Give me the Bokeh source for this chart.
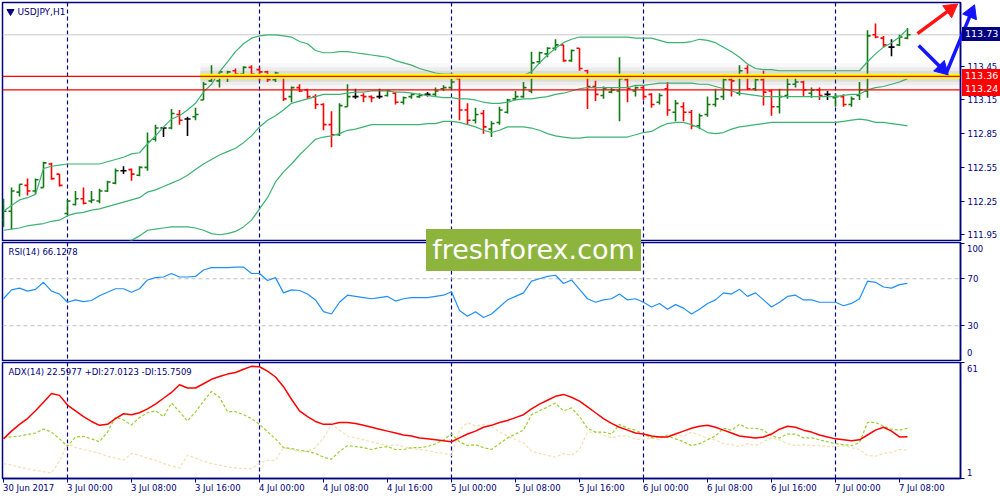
import numpy as np
from bokeh.plotting import figure
from bokeh.layouts import column
from bokeh.models import Range1d, FixedTicker, Span, Div
from bokeh.core.properties import value
from bokeh.embed import file_html
from bokeh.resources import INLINE

# ---------------- data ----------------
opens = [112.08,112.16,112.33,112.39,112.34,112.37,112.58,112.49,112.14,112.22,
         112.27,112.25,112.25,112.34,112.41,112.52,112.53,112.48,112.55,112.80,
         112.90,112.90,113.02,112.98,113.00,113.15,113.32,113.32,113.36,113.41,
         113.38,113.44,113.42,113.40,113.33,113.37,113.18,113.26,113.24,113.18,
         113.11,112.93,112.84,113.09,113.18,113.19,113.18,113.18,113.19,113.21,
         113.13,113.18,113.18,113.20,113.20,113.25,113.26,113.34,113.06,112.97,
         113.03,112.89,112.95,113.04,113.16,113.18,113.23,113.49,113.56,113.61,
         113.64,113.50,113.61,113.41,113.27,113.19,113.22,113.23,113.33,113.23,
         113.26,113.20,113.13,113.25,113.04,113.09,113.04,112.92,113.02,113.11,
         113.18,113.33,113.21,113.43,113.25,113.33,113.23,113.09,113.19,113.29,
         113.31,113.21,113.24,113.20,113.17,113.18,113.11,113.19,113.23,113.73,
         113.70,113.62,113.64,113.70]
highs = [112.27,112.37,112.40,112.45,112.45,112.60,112.59,112.49,112.26,112.34,
         112.37,112.34,112.36,112.43,112.54,112.56,112.54,112.56,112.86,112.93,
         112.90,113.07,113.06,113.00,113.08,113.31,113.46,113.40,113.41,113.43,
         113.45,113.46,113.44,113.41,113.40,113.38,113.27,113.29,113.25,113.20,
         113.12,113.05,113.12,113.29,113.25,113.21,113.19,113.25,113.24,113.22,
         113.18,113.21,113.21,113.22,113.26,113.28,113.34,113.35,113.12,113.08,
         113.06,112.96,113.09,113.16,113.23,113.31,113.58,113.58,113.62,113.69,
         113.64,113.60,113.61,113.42,113.32,113.27,113.26,113.53,113.38,113.27,
         113.28,113.21,113.21,113.31,113.15,113.13,113.06,113.03,113.18,113.25,
         113.38,113.38,113.46,113.46,113.38,113.41,113.24,113.25,113.38,113.35,
         113.32,113.26,113.26,113.23,113.21,113.20,113.18,113.31,113.77,113.83,
         113.72,113.69,113.73,113.79]
lows = [112.02,112.00,112.29,112.30,112.31,112.37,112.44,112.38,112.13,112.21,
        112.22,112.23,112.23,112.33,112.40,112.49,112.43,112.47,112.52,112.78,
        112.82,112.89,112.93,112.83,112.97,113.15,113.31,113.26,113.31,113.37,
        113.37,113.36,113.32,113.31,113.31,113.14,113.13,113.22,113.16,113.07,
        112.88,112.73,112.83,113.09,113.16,113.13,113.13,113.16,113.18,113.11,
        113.11,113.16,113.17,113.18,113.18,113.23,113.25,112.97,112.93,112.94,
        112.85,112.82,112.93,113.03,113.15,113.17,113.21,113.47,113.53,113.59,
        113.49,113.49,113.41,113.07,113.14,113.16,113.21,112.96,113.13,113.18,
        113.15,113.08,113.11,113.01,112.96,112.96,112.89,112.89,113.00,113.09,
        113.15,113.18,113.19,113.24,113.23,113.10,113.01,113.03,113.16,113.26,
        113.18,113.17,113.15,113.15,113.09,113.09,113.09,113.15,113.17,113.70,
        113.62,113.54,113.63,113.69]
closes = [112.16,112.34,112.40,112.34,112.44,112.59,112.45,112.39,112.25,112.27,
          112.23,112.26,112.34,112.42,112.52,112.52,112.49,112.55,112.78,112.90,
          112.90,113.03,112.97,112.98,113.02,113.29,113.35,113.40,113.40,113.38,
          113.44,113.38,113.40,113.33,113.39,113.16,113.26,113.23,113.18,113.11,
          112.93,112.84,113.10,113.18,113.18,113.18,113.17,113.18,113.23,113.13,
          113.17,113.20,113.19,113.20,113.23,113.26,113.31,113.06,112.97,113.02,
          112.91,112.94,113.06,113.15,113.18,113.26,113.48,113.57,113.61,113.64,
          113.50,113.59,113.43,113.27,113.20,113.25,113.24,113.34,113.25,113.26,
          113.18,113.11,113.19,113.06,113.12,113.04,112.92,113.01,113.11,113.16,
          113.33,113.32,113.41,113.25,113.33,113.22,113.09,113.18,113.29,113.31,
          113.24,113.24,113.19,113.20,113.18,113.11,113.16,113.24,113.72,113.71,
          113.64,113.62,113.71,113.73]

bb_upper = [112.16,112.21,112.26,112.28,112.31,112.54,112.56,112.57,112.58,112.58,
            112.58,112.58,112.58,112.60,112.62,112.64,112.67,112.68,112.76,112.83,
            112.91,112.98,113.01,113.06,113.12,113.22,113.29,113.40,113.49,113.58,
            113.65,113.70,113.72,113.73,113.73,113.72,113.71,113.67,113.65,113.59,
            113.57,113.57,113.58,113.58,113.57,113.56,113.55,113.54,113.53,113.50,
            113.48,113.46,113.43,113.41,113.39,113.38,113.38,113.37,113.37,113.37,
            113.37,113.37,113.37,113.36,113.36,113.37,113.40,113.48,113.55,113.61,
            113.66,113.69,113.71,113.71,113.71,113.71,113.71,113.71,113.71,113.70,
            113.70,113.70,113.68,113.66,113.66,113.66,113.67,113.69,113.68,113.66,
            113.62,113.58,113.53,113.47,113.43,113.42,113.42,113.41,113.41,113.41,
            113.41,113.41,113.41,113.41,113.41,113.41,113.41,113.41,113.49,113.56,
            113.62,113.66,113.71,113.78]
bb_middle = [111.99,112.00,112.01,112.03,112.04,112.05,112.07,112.08,112.12,112.14,
             112.15,112.17,112.18,112.20,112.22,112.24,112.26,112.28,112.33,112.35,
             112.38,112.41,112.44,112.48,112.53,112.58,112.62,112.66,112.69,112.72,
             112.77,112.83,112.91,112.97,113.01,113.06,113.12,113.14,113.16,113.18,
             113.20,113.20,113.20,113.21,113.22,113.22,113.23,113.23,113.23,113.22,
             113.22,113.21,113.20,113.19,113.18,113.17,113.17,113.16,113.16,113.15,
             113.13,113.12,113.12,113.13,113.15,113.16,113.16,113.17,113.18,113.20,
             113.21,113.23,113.25,113.26,113.26,113.26,113.26,113.26,113.26,113.28,
             113.28,113.29,113.30,113.30,113.30,113.30,113.30,113.29,113.29,113.27,
             113.25,113.23,113.21,113.20,113.19,113.18,113.18,113.18,113.18,113.18,
             113.18,113.18,113.18,113.18,113.18,113.19,113.20,113.20,113.24,113.26,
             113.27,113.29,113.31,113.34]
bb_lower = [111.83,111.80,111.77,111.77,111.75,111.57,111.57,111.59,111.66,111.69,
            111.71,111.75,111.78,111.78,111.82,111.86,111.90,111.94,111.99,112.00,
            112.01,112.02,112.02,112.02,112.01,111.99,111.96,111.95,111.96,111.98,
            112.02,112.08,112.18,112.28,112.42,112.51,112.58,112.66,112.73,112.80,
            112.82,112.83,112.85,112.88,112.89,112.91,112.93,112.93,112.93,112.93,
            112.93,112.93,112.93,112.94,112.94,112.96,112.96,112.95,112.93,112.91,
            112.88,112.86,112.88,112.91,112.91,112.91,112.90,112.88,112.85,112.83,
            112.82,112.81,112.81,112.82,112.82,112.82,112.82,112.82,112.82,112.84,
            112.86,112.87,112.91,112.94,112.95,112.95,112.93,112.90,112.86,112.85,
            112.86,112.89,112.91,112.92,112.93,112.94,112.95,112.95,112.95,112.95,
            112.95,112.95,112.95,112.95,112.95,112.96,112.97,112.98,112.97,112.95,
            112.95,112.94,112.93,112.92]

rsi = [53,60.5,62,59.5,61,67,59.5,57,50,52,
       50.5,51.5,55.5,58.5,61.5,61.5,58.5,61.5,69,71,
       71.5,74.5,71.5,71.5,72,77.5,79.5,79.5,79.5,80,
       80,74.5,74.5,68.5,71,58,60.5,60,57,52,
       42,40,50,56,55,54,53,54,55,51,
       53,54,54,54,55,56,59,43,38,42,
       37,40,46,52,55,58,68,70,72,73,
       66,69,61,53,50,52,53,57,52,53,
       50,46,49,44,48,45,40,44,49,52,
       58,57,61,55,58,52,46,50,55,56,
       52,52,50,50,50,47,49,53,68,67,
       63,62,65,66.13]

adx = [21.5,25.5,29,32,36,40.5,45,44,39,36,
       33,30.5,28.5,29,32,34.5,34,35,37,39.5,
       42.5,45.5,49.5,47.8,47.8,50,52.3,53.8,55,55.8,
       57.5,59,58.8,56.5,53.5,48.5,42,36,33,30.5,
       29,29,30,30,29.5,28.5,27.5,26.5,25.5,24.5,
       23.5,23,22,21.5,21,20.5,20,22,24,25.5,
       27.5,28.5,30,31,32.5,34,37,39.5,41.5,43.5,
       44.5,43,41,38,35,32,29.5,27.5,26,24.5,
       24,23,22.5,22.5,24,25.5,27,28,28.5,27.5,
       26,24.5,23,22.5,22,22.5,24,26.5,28,27.5,
       26,25,23.5,22.5,21.5,21,20.5,21,23.5,26,
       27.5,25.5,22.5,22.6]
plus_di = [22.2,22.5,22.9,23.8,24.5,26.6,25,21.5,17.7,22.5,
           22.8,21.5,20,25,32.7,31.3,28.7,32.5,35,36,
           33,40,35.5,30.7,35.5,41,46,43,35.6,35.6,
           34,32,29,25.2,21.5,17,16.5,15.6,15,14,
           12,11,15,18,17.5,17,16,17,17.5,16,
           16,17,17,17.5,19,21,24,20,18,18.5,
           17,16,19,22,24,26,34,36,38,40,
           36,37.5,33,27,25,25,24,29,27,26,
           24,22,22.5,23,21.5,20,18,19,21,23,
           27,26,29,27,27,26,23,22,24,24,
           22,22,21,20,19,18.5,18,19.5,30,30,
           28,26.5,26,27.01]
minus_di = [8.7,8,6.9,6,5.2,4.5,3.8,10,19,17,
            16,15,14,12.5,11.5,10.5,14,13,11.5,10.5,
            8.7,7.5,6.4,13,11.5,10,8.7,8,7,6.5,
            6.2,6,9,10.4,10.4,17,16,14.7,15,17,
            22,29,26,23,22,21,20,19,18,18.5,
            17.5,16.5,16,15.5,14.5,14,13,26,30,28,
            29,28,25,23,21,19.5,15,14,13,12,
            14,13,16,25,25,23.5,22,23,23,21.5,
            21,22,21,24,23,23,25,23.5,22,21,
            19,18.5,17.5,19,18,20,22,21,19,18,
            18.5,18,18,17.5,17.5,18,17,16,13,12.5,
            14,14.5,16,15.75]

tick_bars = [0, 8, 16, 24, 32, 40, 48, 56, 64, 72, 80, 88, 96, 104, 112]
tick_labels = ["30 Jun 2017", "3 Jul 00:00", "3 Jul 08:00", "3 Jul 16:00", "4 Jul 00:00",
               "4 Jul 08:00", "4 Jul 16:00", "5 Jul 00:00", "5 Jul 08:00", "5 Jul 16:00",
               "6 Jul 00:00", "6 Jul 08:00", "6 Jul 16:00", "7 Jul 00:00", "7 Jul 08:00"]
day_separators = [8, 32, 56, 80, 104]
price_ticks = [111.95, 112.25, 112.55, 112.85, 113.15, 113.45]
support_levels = [113.36, 113.24]
last_price = 113.73
rsi_levels = [30, 70]

# annotation arrows (bar index, price): x_start, y_start, x_end, y_end
arrow_red = (114.25, 113.74, 119.0, 113.99)
arrow_blue_1 = (114.4, 113.635, 117.85, 113.39)
arrow_blue_2 = (117.85, 113.39, 121.25, 113.975)

# ---------------- style / layout ----------------
FONT = "DejaVu Sans"
NAVY = "#000080"
UP = "#127a12"
DOWN = "#ff0000"
DOJI = "#000000"
BB = "#3cb371"
X0, X1 = -0.125, 119.625
LEFT = 2
FW = 958
BPX = (X1 - X0) / FW          # bars per pixel
RIGHT = 40
xr = Range1d(X0, X1)

MAIN_TOP, MAIN_H = 2, 238
RSI_TOP, RSI_H = 242, 118
ADX_TOP, ADX_H = 362, 116
MY0, MY1 = 111.899, 114.0175
RY0, RY1 = 0.4, 100.9
AY0, AY1 = 1, 61

N = len(closes)
idx = np.arange(N)


def panel(fh, y0, y1, top=1, bottom=1, xaxis=False):
    p = figure(frame_width=FW, frame_height=fh, x_range=xr, y_range=Range1d(y0, y1),
               output_backend="svg", toolbar_location=None, y_axis_location="right",
               x_axis_location="below" if xaxis else None,
               min_border_left=LEFT, min_border_right=RIGHT, min_border_top=top,
               min_border_bottom=bottom)
    p.xgrid.visible = False
    p.ygrid.visible = False
    p.outline_line_color = NAVY
    p.outline_line_width = 1.5
    p.background_fill_color = "white"
    p.border_fill_color = "white"
    ax = p.yaxis[0]
    ax.axis_line_color = NAVY
    ax.axis_line_width = 1.5
    ax.major_tick_line_color = NAVY
    ax.major_tick_out = 4
    ax.major_tick_in = 0
    ax.minor_tick_line_color = None
    ax.major_label_text_font = FONT
    ax.major_label_text_font_size = "8.5px"
    ax.major_label_text_color = NAVY
    ax.major_label_standoff = 3
    for d in day_separators:
        p.add_layout(Span(location=d, dimension="height", line_color=NAVY,
                          line_dash="4 3", line_width=1.2, level="underlay"))
    return p


def upp(p):
    r = p.y_range
    return (r.end - r.start) / p.frame_height


divs = []


def page_div(text, left, top, w, h, color=NAVY, bg=None, size="8.5px", extra=None):
    st = {"position": "absolute", "left": "%dpx" % round(left), "top": "%dpx" % round(top),
          "color": color, "font-family": FONT, "font-size": size,
          "line-height": "%dpx" % h, "white-space": "nowrap", "z-index": "10"}
    if bg is not None:
        st["background-color"] = bg
    if extra:
        st.update(extra)
    divs.append(Div(text=text, width=w, height=h, margin=0, styles=st))


def y_to_px(v, top, h, y0, y1):
    return top + (y1 - v) / (y1 - y0) * h


# ---------------- main price panel ----------------
pm = panel(MAIN_H, MY0, MY1, top=MAIN_TOP)
pm.yaxis[0].ticker = FixedTicker(ticks=price_ticks)

pm.add_layout(Span(location=last_price, dimension="width", line_color="#c8c8c8",
                   line_width=1, level="underlay"))

colors = [UP if c > o else (DOWN if c < o else DOJI) for o, c in zip(opens, closes)]
pm.segment(x0=idx, y0=lows, x1=idx, y1=highs, line_color=colors, line_width=1.6)
pm.segment(x0=idx - 0.38, y0=opens, x1=idx, y1=opens, line_color=colors, line_width=1.6)
pm.segment(x0=idx, y0=closes, x1=idx + 0.38, y1=closes, line_color=colors, line_width=1.6)

pm.line(idx, bb_upper, line_color=BB, line_width=1.2)
pm.line(idx, bb_middle, line_color=BB, line_width=1.2)
pm.line(idx, bb_lower, line_color=BB, line_width=1.2)

hl_start = 24.6
lvl = support_levels[0]
for w, a in [(26, 0.05), (18, 0.08), (11, 0.13)]:
    pm.line([hl_start, X1], [lvl, lvl], line_color="#707070", line_width=w, line_alpha=a)
pm.line([hl_start, X1], [lvl, lvl], line_color="#ffff00", line_width=5)
for s in support_levels:
    pm.add_layout(Span(location=s, dimension="width", line_color=DOWN, line_width=1.3))

# title
mu = upp(pm)
pm.scatter([X0 + 8 * BPX], [MY1 - 9 * mu], marker="inverted_triangle", size=7, color=NAVY)
pm.text(x=[X0 + 15 * BPX], y=[MY1 - 9 * mu], text=["USDJPY,H1"], text_font=value(FONT),
        text_font_size="9px", text_color=NAVY, text_baseline="middle")

# arrows (drawn as overlay glyphs)
for (xs, ys, xe, ye), col in [(arrow_red, "#ff1414"), (arrow_blue_1, "#1414ff"),
                              (arrow_blue_2, "#1414ff")]:
    th = np.arctan2((ye - ys) / mu, (xe - xs) / BPX)
    hx = xe - np.cos(th) * 6 * BPX
    hy = ye - np.sin(th) * 6 * mu
    pm.segment(x0=[xs], y0=[ys], x1=[hx], y1=[hy], line_color=col, line_width=3.5,
               level="overlay")
    pm.scatter(x=[hx], y=[hy], marker="triangle", size=15, angle=th - np.pi / 2,
               fill_color=col, line_color=col, level="overlay")

# price tags on the right scale
for v, bg in [(last_price, NAVY)] + [(s, DOWN) for s in support_levels]:
    cy = y_to_px(v, MAIN_TOP, MAIN_H, MY0, MY1)
    page_div("%.2f" % v, LEFT + FW + 2, cy - 7, 38, 14, color="white", bg=bg, size="9.5px",
             extra={"padding-left": "3px", "box-sizing": "border-box"})

# ---------------- RSI panel ----------------
pr = panel(RSI_H, RY0, RY1)
pr.yaxis[0].ticker = FixedTicker(ticks=[0, 30, 70, 100])
pr.yaxis[0].major_label_overrides = {0: "", 100: "", 30: "30", 70: "70"}
for lv in rsi_levels:
    pr.add_layout(Span(location=lv, dimension="width", line_color="#c0c0c0",
                       line_dash="4 3", line_width=1, level="underlay"))
pr.line(idx, rsi, line_color="#1e90ff", line_width=1.2)
pr.text(x=[X0 + 6 * BPX], y=[RY1 - 9 * upp(pr)], text=["RSI(14) 66.1278"],
        text_font=value(FONT), text_font_size="8.5px", text_color=NAVY,
        text_baseline="middle")
page_div("100", LEFT + FW + 7, RSI_TOP + 7 - 6, 30, 12)
page_div("0", LEFT + FW + 7, RSI_TOP + RSI_H - 7 - 6, 30, 12)

# ---------------- ADX panel ----------------
pa = panel(ADX_H, AY0, AY1, bottom=22, xaxis=True)
pa.yaxis[0].ticker = FixedTicker(ticks=[1, 61])
pa.yaxis[0].major_label_overrides = {1: "", 61: ""}
xa = pa.xaxis[0]
xa.ticker = FixedTicker(ticks=tick_bars)
xa.major_label_overrides = {t: "" for t in tick_bars}
xa.axis_line_color = NAVY
xa.axis_line_width = 1.5
xa.major_tick_line_color = NAVY
xa.major_tick_out = 4
xa.major_tick_in = 0
xa.minor_tick_line_color = None

pa.line(idx, minus_di, line_color="#f5deb3", line_width=1.2, line_dash="3 2")
pa.line(idx, plus_di, line_color="#9acd32", line_width=1.2, line_dash="3 2")
pa.line(idx, adx, line_color="#ff0000", line_width=1.5)
pa.text(x=[X0 + 6 * BPX], y=[AY1 - 9 * upp(pa)],
        text=["ADX(14) 22.5977 +DI:27.0123 -DI:15.7509"],
        text_font=value(FONT), text_font_size="8.5px", text_color=NAVY,
        text_baseline="middle")
page_div("61", LEFT + FW + 7, ADX_TOP + 7 - 6, 30, 12)
page_div("1", LEFT + FW + 7, ADX_TOP + ADX_H - 5 - 6, 30, 12)
for t, lab in zip(tick_bars, tick_labels):
    page_div(lab, LEFT + (t - X0) / BPX, ADX_TOP + ADX_H + 4, 70, 12)

# ---------------- watermark ----------------
page_div("freshforex.com", 426, 229, 215, 42, color="white", bg="#8db43c", size="27px",
         extra={"text-align": "center"})

layout = column(pm, pr, pa, *divs, spacing=0)
open("out.html", "w").write(file_html(layout, INLINE))
